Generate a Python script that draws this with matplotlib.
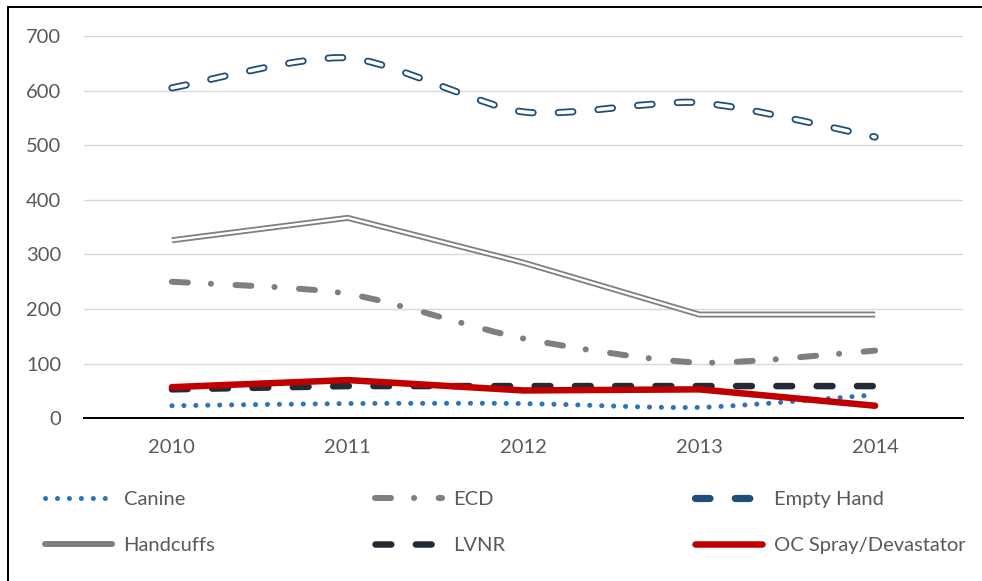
import matplotlib
matplotlib.use("Agg")
import matplotlib.pyplot as plt
from matplotlib.path import Path
from matplotlib.patches import PathPatch
from matplotlib.lines import Line2D
import numpy as np

plt.rcParams['font.family'] = ['Lato', 'DejaVu Sans']
plt.rcParams['lines.scale_dashes'] = False

years = ['2010', '2011', '2012', '2013', '2014']
canine = [23, 27, 27, 20, 43]
ecd = [250, 228, 146, 102, 124]
empty_hand = [605, 660, 561, 578, 515]
handcuffs = [326, 367, 285, 190, 190]
lvnr = [53, 59, 59, 59, 59]
oc_spray = [57, 70, 51, 53, 23]

TXT = '#595959'
PX = 72 / 100.0  # points per pixel at dpi 100
SMOOTH = 1 / 8.0

fig = plt.figure(figsize=(9.82, 5.81), dpi=100)
ax = fig.add_axes([84 / 982, 1 - 418.3 / 581, (963 - 84) / 982, (418.3 - 36) / 581])

x = np.arange(len(years))


def smooth_path(xs, ys):
    pts = np.column_stack([xs, ys]).astype(float)
    n = len(pts)
    verts = [pts[0]]
    codes = [Path.MOVETO]
    for i in range(n - 1):
        p0 = pts[max(i - 1, 0)]
        p1 = pts[i]
        p2 = pts[i + 1]
        p3 = pts[min(i + 2, n - 1)]
        c1 = p1 + (p2 - p0) * SMOOTH
        c2 = p2 - (p3 - p1) * SMOOTH
        verts += [c1, c2, p2]
        codes += [Path.CURVE4] * 3
    return Path(verts, codes)


def add_smooth(xs, ys, color, lw, dashes, z):
    p = PathPatch(smooth_path(xs, ys), fill=False, edgecolor=color, lw=lw,
                  linestyle=(0, dashes), capstyle='round', joinstyle='round',
                  zorder=z)
    ax.add_patch(p)
    return p


can_lw, can_d = 5.0 * PX, (0.1, 11.8 * PX)
ecd_lw, ecd_d = 6.0 * PX, (16.0 * PX, 23.0 * PX, 0.1, 24.5 * PX)
eh_lw, eh_in, eh_d = 7.2 * PX, 3.6 * PX, (14.5 * PX, 25.3 * PX)
hc_lw, hc_in = 6.0 * PX, 2.4 * PX
lv_lw, lv_d = 6.5 * PX, (15.8 * PX, 24.5 * PX)
oc_lw = 6.5 * PX

# Canine: dotted blue, smoothed
add_smooth(x, canine, '#2E75B6', can_lw, can_d, 3)
# ECD: long dash-dot gray, smoothed
add_smooth(x, ecd, '#7F7F7F', ecd_lw, ecd_d, 3.1)
# Empty Hand: double dashed dark blue, smoothed
add_smooth(x, empty_hand, '#1F4E79', eh_lw, eh_d, 3.2)
add_smooth(x, empty_hand, 'white', eh_in, eh_d, 3.21)
# Handcuffs: double solid gray, straight
ax.plot(x, handcuffs, color='#7F7F7F', lw=hc_lw, solid_joinstyle='miter',
        solid_capstyle='butt', zorder=3.3)
ax.plot(x, handcuffs, color='white', lw=hc_in, solid_joinstyle='miter',
        solid_capstyle='butt', zorder=3.31)
# LVNR: dashed dark navy
ax.plot(x, lvnr, color='#222A35', lw=lv_lw, linestyle=(0, lv_d),
        dash_capstyle='round', zorder=3.4)
# OC Spray: solid red
ax.plot(x, oc_spray, color='#C00000', lw=oc_lw, solid_capstyle='round',
        solid_joinstyle='round', zorder=3.5)

ax.set_xlim(-0.5, len(years) - 0.5)
ax.set_ylim(0, 700)
ax.set_yticks(np.arange(0, 701, 100))
ax.set_xticks(x)
ax.set_xticklabels(years)
ax.yaxis.grid(True, color='#D9D9D9', lw=1.4 * PX)
ax.set_axisbelow(True)
for s in ['left', 'right', 'top']:
    ax.spines[s].set_visible(False)
ax.spines['bottom'].set_color('black')
ax.spines['bottom'].set_linewidth(2.0 * PX)
ax.spines['bottom'].set_zorder(5)
ax.tick_params(axis='both', length=0, labelsize=14.5, labelcolor=TXT)
ax.tick_params(axis='y', pad=23 * PX)
ax.tick_params(axis='x', pad=21 * PX)

# Legend (proxy handles with the series styles)
h_canine = Line2D([], [], color='#2E75B6', lw=can_lw, linestyle=(0, can_d),
                  dash_capstyle='round')
h_ecd = Line2D([], [], color='#7F7F7F', lw=ecd_lw, linestyle=(0, ecd_d), dash_capstyle='round')
h_eh = Line2D([], [], color='#1F4E79', lw=eh_lw, linestyle=(0, eh_d), dash_capstyle='round')
h_hc = Line2D([], [], color='#7F7F7F', lw=hc_lw, solid_capstyle='round')
h_lv = Line2D([], [], color='#222A35', lw=lv_lw, linestyle=(0, lv_d), dash_capstyle='round')
h_oc = Line2D([], [], color='#C00000', lw=oc_lw, solid_capstyle='round')

cols = [([h_canine, h_hc], ['Canine', 'Handcuffs'], 45),
        ([h_ecd, h_lv], ['ECD', 'LVNR'], 375),
        ([h_eh, h_oc], ['Empty Hand', 'OC Spray/Devastator'], 695)]
for hs, ls, xp in cols:
    leg = fig.legend(hs, ls, loc='center left', bbox_to_anchor=(xp / 982, 1 - 522.5 / 581),
                     frameon=False, fontsize=14.5, handlelength=3.35, handletextpad=0.55,
                     labelspacing=1.4, borderpad=0, borderaxespad=0)
    for t in leg.get_texts():
        t.set_color(TXT)

# Outer chart border (left and top visible)
fig.add_artist(Line2D([8 / 982, 8 / 982], [1 - 7 / 581, -0.1], color='black', lw=2 * PX,
                      transform=fig.transFigure))
fig.add_artist(Line2D([8 / 982, 1.1], [1 - 7 / 581, 1 - 7 / 581], color='black', lw=2 * PX,
                      transform=fig.transFigure))

fig.savefig('out.png', dpi=100, facecolor='white')
